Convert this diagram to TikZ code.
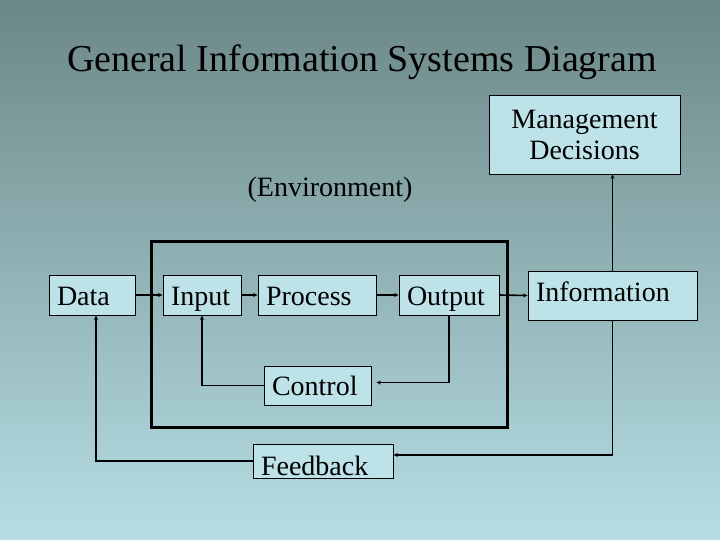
\documentclass[tikz,border=0pt]{standalone}
\usepackage{fontspec}
\setmainfont{Liberation Serif}
\usetikzlibrary{arrows.meta}
\definecolor{slidetop}{HTML}{6C8787}
\definecolor{slidebottom}{HTML}{B6DEE4}
\definecolor{boxfill}{HTML}{BDE3E8}

\begin{document}
\begin{tikzpicture}[
  x=1pt,
  y=-1pt,
  every node/.style={font=\fontsize{28}{31}\selectfont, black},
  box/.style={draw=black, line width=0.9pt, fill=boxfill, inner xsep=8pt,
    inner ysep=0pt, align=left, text height=20pt, text depth=0pt},
  flow/.style={black, line width=1.6pt, -{Stealth[length=4.5pt, width=4pt]}},
  frame/.style={black, line width=3pt}
]
  % ---- slide background ------------------------------------------------
  \shade[top color=slidetop, bottom color=slidebottom] (0,0) rectangle (720,540);

  % ---- title -----------------------------------------------------------
  \node (title) at (362,62) {\fontsize{38}{42}\selectfont General Information Systems Diagram};

  % ---- system boundary -------------------------------------------------
  \draw[frame] (151,241) rectangle (507,427);
  \node (environment) at (330,190) {(Environment)};

  % ---- boxes -----------------------------------------------------------
  \node[box, text width=70pt, minimum height=40pt] (data) at (92,295) {Data};
  \node[box, text width=62pt, minimum height=40pt] (input) at (202,295) {Input};
  \node[box, text width=102pt, minimum height=40pt] (process) at (317,295) {Process};
  \node[box, text width=84pt, minimum height=40pt] (output) at (449,295) {Output};
  \node[box, text width=153pt, minimum height=49pt, text depth=9pt] (information)
    at (612.5,295.5) {Information};
  \node[box, text width=175pt, minimum height=79pt, align=center, text height=, text depth=]
    (management) at (584.5,134.5) {Management\\Decisions};
  \node[box, text width=91pt, minimum height=39pt] (control) at (317.5,385.5) {Control};
  \node[box, text width=124pt, minimum height=34pt, text height=28pt] (feedback)
    at (323,461) {Feedback};

  % ---- main flow -------------------------------------------------------
  \draw[flow] (data.east) -- (input.west);
  \draw[flow] (input.east) -- (process.west);
  \draw[flow] (process.east) -- (output.west);
  \draw[flow] (output.east) -- (information.west);
  \draw[flow] (information.north) -- (information.north |- management.south);

  % ---- control loop ----------------------------------------------------
  \draw[flow, shorten >=5pt] (output.south) |- ([yshift=3pt]control.east);
  \draw[flow] (control.west) -| (input.south);

  % ---- feedback loop ---------------------------------------------------
  \draw[flow] (information.south) |- ([yshift=6pt]feedback.east);
  \draw[flow] (feedback.west) -| ([xshift=4pt]data.south);
\end{tikzpicture}
\end{document}
